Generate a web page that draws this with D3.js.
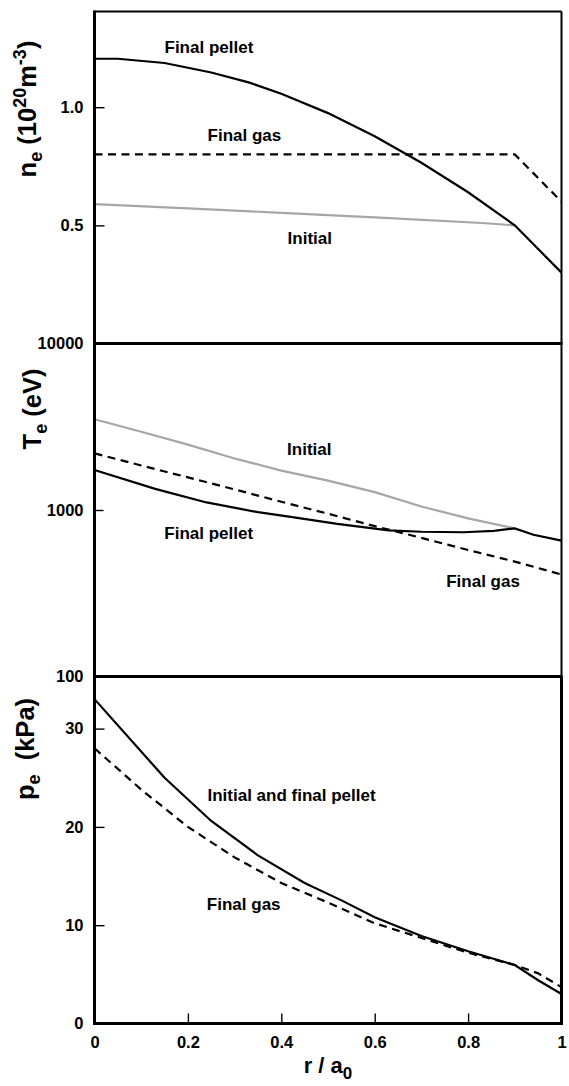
<!DOCTYPE html>
<html>
<head>
<meta charset="utf-8">
<script src="https://cdn.jsdelivr.net/npm/d3@7/dist/d3.min.js"></script>
<style>
  html, body { margin: 0; padding: 0; background: #fff; }
  svg { display: block; font-family: "Liberation Sans", Arial, Helvetica, sans-serif; font-weight: bold; }
</style>
</head>
<body>
<svg id="chart" width="569" height="1086"></svg>
<script>
// ---------------- DATA ----------------
// Panel 1: electron density n_e (10^20 m^-3)
const neInitialR   = [0, 0.2, 0.4, 0.6, 0.83, 0.9];
const neInitial    = [0.59, 0.572, 0.553, 0.534, 0.51, 0.5];
const neGasR       = [0, 0.9, 1.0];
const neGas        = [0.8, 0.8, 0.6];
const nePelletR    = [0, 0.05, 0.15, 0.25, 0.33, 0.4, 0.5, 0.6, 0.7, 0.8, 0.9, 1.0];
const nePellet     = [1.205, 1.205, 1.187, 1.147, 1.105, 1.057, 0.975, 0.877, 0.765, 0.64, 0.5, 0.3];

// Panel 2: electron temperature T_e (eV), log scale
const teInitialR   = [0, 0.1, 0.2, 0.3, 0.4, 0.5, 0.6, 0.7, 0.8, 0.9];
const teInitial    = [3510, 2950, 2470, 2040, 1725, 1500, 1280, 1050, 890, 775];
const teGasR       = [0, 0.1, 0.2, 0.3, 0.4, 0.5, 0.6, 0.7, 0.8, 0.9, 1.0];
const teGas        = [2190, 1850, 1570, 1330, 1120, 950, 800, 680, 575, 490, 410];
const tePelletR    = [0, 0.13, 0.24, 0.35, 0.42, 0.52, 0.63, 0.7, 0.79, 0.855, 0.9, 0.94, 1.0];
const tePellet     = [1740, 1340, 1110, 970, 910, 825, 755, 740, 735, 750, 775, 710, 655];

// Panel 3: electron pressure p_e (kPa)
const pePelletR    = [0, 0.15, 0.25, 0.35, 0.45, 0.53, 0.6, 0.7, 0.8, 0.9, 0.95, 1.0];
const pePellet     = [33.0, 25.0, 20.6, 17.1, 14.3, 12.5, 10.8, 8.9, 7.35, 5.95, 4.4, 3.0];
const peGasR       = [0, 0.1, 0.2, 0.3, 0.4, 0.5, 0.6, 0.7, 0.8, 0.9, 0.95, 1.0];
const peGas        = [28.0, 23.8, 20.0, 16.9, 14.3, 12.3, 10.2, 8.7, 7.2, 5.95, 5.1, 3.7];

// Tick values / labels
const xTicks   = [0, 0.2, 0.4, 0.6, 0.8, 1];
const xTickLabels = ["0", "0.2", "0.4", "0.6", "0.8", "1"];
const neTicks  = [0.5, 1.0];
const teTicks  = [100, 1000, 10000];
const peTicks  = [0, 10, 20, 30];

// Curve annotations (in data coordinates)
const neNotes = [["Final pellet", 0.245, 1.229], ["Final gas", 0.321, 0.859], ["Initial", 0.461, 0.422]];
const teNotes = [["Initial", 0.46, 2138], ["Final pellet", 0.2445, 670], ["Final gas", 0.832, 343]];
const peNotes = [["Initial and final pellet", 0.422, 22.6], ["Final gas", 0.3195, 11.53]];

// ---------------- LAYOUT ----------------
const svg = d3.select("#chart");
const X0 = 94.5, X1 = 561.5;
const x = d3.scaleLinear().domain([0, 1]).range([X0, X1]);
const yN = d3.scaleLinear().domain([0, 1.405]).range([343.5, 11.5]);
const yT = d3.scaleLog().domain([100, 10000]).range([676.5, 343.5]);
const yP = d3.scaleLinear().domain([0, 35.3]).range([1023.5, 676.5]);

const zip = (rs, vs) => rs.map((r, i) => [r, vs[i]]);

function drawLine(yScale, rs, vs, style) {
  const line = d3.line().x(d => x(d[0])).y(d => yScale(d[1]));
  svg.append("path")
    .datum(zip(rs, vs))
    .attr("d", line)
    .attr("fill", "none")
    .attr("stroke", style.color)
    .attr("stroke-width", style.width)
    .attr("stroke-dasharray", style.dash || null)
    .attr("stroke-linejoin", "miter");
}
const GREY = { color: "#a6a6a6", width: 2.2 };
const SOLID = { color: "#000", width: 2.2 };
const DASH = { color: "#000", width: 2.2, dash: "8,5.5" };

// Panel 1
drawLine(yN, neInitialR, neInitial, GREY);
drawLine(yN, neGasR, neGas, DASH);
drawLine(yN, nePelletR, nePellet, SOLID);
// Panel 2
drawLine(yT, teInitialR, teInitial, GREY);
drawLine(yT, teGasR, teGas, DASH);
drawLine(yT, tePelletR, tePellet, SOLID);
// Panel 3
drawLine(yP, peGasR, peGas, DASH);
drawLine(yP, pePelletR, pePellet, SOLID);

// ---------------- AXES ----------------
function styleAxis(g) {
  g.select(".domain").remove();
  g.selectAll(".tick line").attr("stroke", "#000").attr("stroke-width", 1.4);
  g.selectAll(".tick text").attr("fill", "#000").style("font-size", "16.5px")
    .style("font-family", "'Liberation Sans', Arial, sans-serif").style("font-weight", "bold");
}
svg.append("g").attr("transform", `translate(${X0},0)`)
  .call(d3.axisLeft(yN).tickValues(neTicks).tickSize(-10).tickPadding(11).tickFormat(d3.format(".1f")))
  .call(styleAxis);
svg.append("g").attr("transform", `translate(${X0},0)`)
  .call(d3.axisLeft(yT).tickValues(teTicks).tickSize(-9).tickPadding(11).tickFormat(d3.format("d")))
  .call(styleAxis);
svg.append("g").attr("transform", `translate(${X0},0)`)
  .call(d3.axisLeft(yP).tickValues(peTicks).tickSize(-10).tickPadding(11).tickFormat(d3.format("d")))
  .call(styleAxis);
svg.append("g").attr("transform", `translate(0,${yP.range()[0]})`)
  .call(d3.axisBottom(x).tickValues(xTicks).tickSize(-10).tickPadding(13)
        .tickFormat((d, i) => xTickLabels[i]))
  .call(styleAxis);

// ---------------- FRAMES ----------------
const frame = svg.append("g").attr("stroke", "#000").attr("fill", "none");
frame.append("line").attr("x1", X0).attr("x2", X1).attr("y1", yN.range()[1]).attr("y2", yN.range()[1]).attr("stroke-width", 2);
frame.append("line").attr("x1", X1).attr("x2", X1).attr("y1", yN.range()[1]).attr("y2", yT.range()[0]).attr("stroke-width", 2);
frame.append("line").attr("x1", X1).attr("x2", X1).attr("y1", yP.range()[1]).attr("y2", yP.range()[0] + 1.5).attr("stroke-width", 3);
[yN.range()[0], yT.range()[0], yP.range()[0]].forEach(yy => {
  frame.append("line").attr("x1", X0 - 1.5).attr("x2", X1 + 1).attr("y1", yy).attr("y2", yy).attr("stroke-width", 3);
});
frame.append("line").attr("x1", X0).attr("x2", X0).attr("y1", yN.range()[1] - 1).attr("y2", yP.range()[0] + 1.5).attr("stroke-width", 3);

// ---------------- ANNOTATIONS ----------------
function notes(arr, yScale) {
  arr.forEach(([t, r, v]) => {
    svg.append("text").attr("x", x(r)).attr("y", yScale(v))
      .attr("text-anchor", "middle").style("font-size", "17px").text(t);
  });
}
notes(neNotes, yN);
notes(teNotes, yT);
notes(peNotes, yP);

// ---------------- AXIS TITLES ----------------
function yTitle(cx, cy, parts) {
  const t = svg.append("text")
    .attr("transform", `translate(${cx},${cy}) rotate(-90)`)
    .attr("text-anchor", "middle")
    .attr("xml:space", "preserve")
    .style("font-size", "25.5px");
  parts.forEach(p => {
    const ts = t.append("tspan").text(p.t);
    if (p.sub) ts.attr("dy", p.sub).style("font-size", "18px");
    if (p.back) ts.attr("dy", p.back);
  });
}
yTitle(36, 109, [
  { t: "n" }, { t: "e", sub: "6" }, { t: " (10", back: "-6" }, { t: "20", sub: "-10" },
  { t: "m", back: "10" }, { t: "-3", sub: "-10" }, { t: ")", back: "10" }
]);
yTitle(41, 409, [
  { t: "T" }, { t: "e", sub: "6" }, { t: " (eV)", back: "-6" }
]);
yTitle(34, 749, [
  { t: "p" }, { t: "e", sub: "6" }, { t: "  (kPa)", back: "-6" }
]);

// x title
const xt = svg.append("text").attr("x", 328).attr("y", 1073).attr("text-anchor", "middle").style("font-size", "22px");
xt.append("tspan").text("r / a");
xt.append("tspan").text("0").attr("dy", "6").style("font-size", "17px");
</script>
</body>
</html>
